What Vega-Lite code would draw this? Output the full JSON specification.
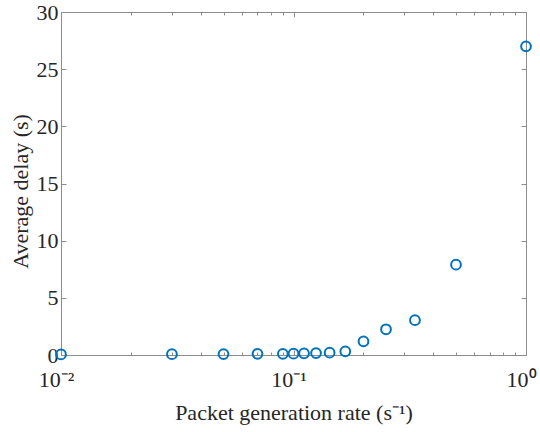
{
  "$schema": "https://vega.github.io/schema/vega-lite/v6.json",
  "width": 465,
  "height": 343,
  "autosize": {"type": "none"},
  "padding": {"left": 61, "top": 12, "right": 14, "bottom": 77},
  "background": "white",
  "config": {
    "view": {"stroke": null},
    "font": "Liberation Serif",
    "axis": {
      "grid": false,
      "domainColor": "#8c8c8c",
      "tickColor": "#8c8c8c",
      "labelColor": "#262626",
      "titleColor": "#262626",
      "labelFont": "Liberation Serif",
      "titleFont": "Liberation Serif",
      "labelFontSize": 22,
      "titleFontSize": 22,
      "titleFontWeight": "normal"
    }
  },
  "data": {
    "values": [
      {"rate": 0.01, "delay": 0.05},
      {"rate": 0.03, "delay": 0.07},
      {"rate": 0.05, "delay": 0.08},
      {"rate": 0.07, "delay": 0.1},
      {"rate": 0.09, "delay": 0.1},
      {"rate": 0.1, "delay": 0.12},
      {"rate": 0.111, "delay": 0.15},
      {"rate": 0.125, "delay": 0.17},
      {"rate": 0.143, "delay": 0.2},
      {"rate": 0.167, "delay": 0.32},
      {"rate": 0.2, "delay": 1.2},
      {"rate": 0.25, "delay": 2.25},
      {"rate": 0.333, "delay": 3.05},
      {"rate": 0.5, "delay": 7.9},
      {"rate": 1.0, "delay": 27}
    ]
  },
  "resolve": {"axis": {"x": "independent", "y": "independent"}},
  "layer": [
    {
      "mark": {"type": "point", "shape": "circle", "filled": false, "color": "#0072BD", "opacity": 1, "strokeWidth": 2, "size": 95, "clip": false},
      "encoding": {
        "x": {
          "field": "rate", "type": "quantitative",
          "scale": {"type": "log", "domain": [0.01, 1], "nice": false},
          "axis": {
            "orient": "bottom",
            "title": "Packet generation rate (s⁻¹)",
            "values": [0.01,0.02,0.03,0.04,0.05,0.06,0.07,0.08,0.09,0.1,0.2,0.3,0.4,0.5,0.6,0.7,0.8,0.9,1],
            "labelExpr": "datum.value == 0.01 ? '10⁻²' : (datum.value == 0.1 ? '10⁻¹' : (datum.value == 1 ? '10⁰' : ''))",
            "tickSize": {"condition": {"test": "datum.value == 0.01 || datum.value == 0.1 || datum.value == 1", "value": -5}, "value": -3},
            "labelPadding": 19,
            "labelOffset": -5,
            "labelFlush": false,
            "labelOverlap": false,
            "titlePadding": 10
          }
        },
        "y": {
          "field": "delay", "type": "quantitative",
          "scale": {"domain": [0, 30], "nice": false},
          "axis": {
            "orient": "left",
            "title": "Average delay (s)",
            "values": [0,5,10,15,20,25,30],
            "tickSize": -5,
            "labelPadding": 8,
            "titlePadding": 4,
            "titleY": 179
          }
        }
      }
    },
    {
      "mark": {"type": "point", "opacity": 0},
      "encoding": {
        "x": {
          "field": "rate", "type": "quantitative",
          "scale": {"type": "log", "domain": [0.01, 1], "nice": false},
          "axis": {
            "orient": "top",
            "title": null,
            "labels": false,
            "values": [0.01,0.02,0.03,0.04,0.05,0.06,0.07,0.08,0.09,0.1,0.2,0.3,0.4,0.5,0.6,0.7,0.8,0.9,1],
            "tickSize": {"condition": {"test": "datum.value == 0.01 || datum.value == 0.1 || datum.value == 1", "value": -5}, "value": -3}
          }
        },
        "y": {
          "field": "delay", "type": "quantitative",
          "scale": {"domain": [0, 30], "nice": false},
          "axis": {
            "orient": "right",
            "title": null,
            "labels": false,
            "values": [0,5,10,15,20,25,30],
            "tickSize": -5
          }
        }
      }
    }
  ]
}
